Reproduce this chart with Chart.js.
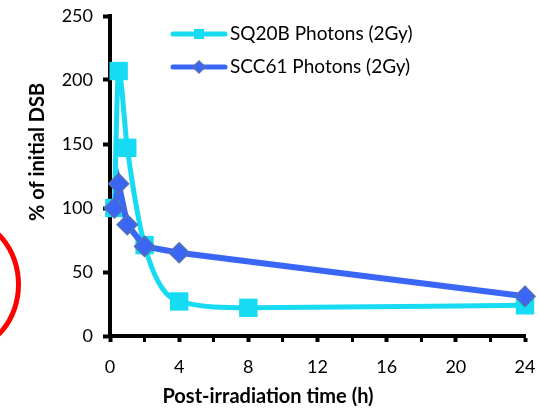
<!DOCTYPE html>
<html>
<head>
<meta charset="utf-8">
<script src="https://cdn.jsdelivr.net/npm/chart.js@4/dist/chart.umd.min.js"></script>
<style>
  html, body { margin: 0; padding: 0; background: #fff; overflow: hidden; }
  #wrap { position: relative; width: 539px; height: 411px; }
  #ring { position: absolute; left: -91px; top: 218px; width: 102px; height: 123px;
          border: 5px solid #ff0000; border-radius: 50%; }
</style>
</head>
<body>
<div id="wrap">
  <canvas id="c" width="539" height="411"></canvas>
  <div id="ring"></div>
</div>
<script>
// ---- data ----
const seriesNames = ['SQ20B Photons (2Gy)', 'SCC61 Photons (2Gy)'];
const timesSQ20B = [0.25, 0.5, 1, 2, 4, 8, 24];
const valuesSQ20B = [100, 207, 147, 71, 27, 22, 24];
const timesSCC61 = [0.25, 0.5, 1, 2, 4, 24];
const valuesSCC61 = [100, 119, 87, 70, 65, 31];
const xTitle = 'Post-irradiation time (h)';
const yTitle = '% of initial DSB';

const CYAN = 'rgb(22,219,242)';
const BLUE = 'rgb(58,102,246)';
const DIAMOND_EDGE = 'rgb(84,112,178)';
const FONT = 'Lato, "Open Sans", sans-serif';

const toPts = (xs, ys) => xs.map((x, i) => ({ x: x, y: ys[i] }));

const overlay = {
  id: 'overlay',
  afterDraw(chart) {
    const ctx = chart.ctx;
    ctx.save();
    // legend
    chart.data.datasets.forEach((ds, i) => {
      const y = 34 + 33 * i;
      ctx.strokeStyle = ds.borderColor;
      ctx.lineWidth = 5;
      ctx.lineCap = 'round';
      ctx.beginPath(); ctx.moveTo(173, y); ctx.lineTo(225, y); ctx.stroke();
      const cx = 199;
      if (ds.pointStyle === 'rect') {
        ctx.fillStyle = ds.pointBackgroundColor;
        ctx.fillRect(cx - 5, y - 5, 10, 10);
      } else {
        ctx.fillStyle = ds.pointBackgroundColor;
        ctx.strokeStyle = ds.pointBorderColor;
        ctx.lineWidth = 1.5;
        ctx.beginPath();
        ctx.moveTo(cx, y - 6); ctx.lineTo(cx + 6, y); ctx.lineTo(cx, y + 6); ctx.lineTo(cx - 6, y);
        ctx.closePath(); ctx.fill(); ctx.stroke();
      }
      ctx.fillStyle = '#000';
      ctx.font = '19px ' + FONT;
      ctx.textAlign = 'left';
      ctx.textBaseline = 'middle';
      ctx.fillText(ds.label, 230, y);
    });
    // axis titles
    ctx.fillStyle = '#000';
    ctx.font = 'bold 20px ' + FONT;
    ctx.textAlign = 'center';
    ctx.textBaseline = 'middle';
    ctx.fillText(xTitle, 268, 397);
    ctx.translate(38, 152);
    ctx.rotate(-Math.PI / 2);
    ctx.fillText(yTitle, 0, 0);
    ctx.restore();
  }
};

new Chart(document.getElementById('c'), {
  type: 'line',
  data: {
    datasets: [
      {
        label: seriesNames[0],
        data: toPts(timesSQ20B, valuesSQ20B),
        borderColor: CYAN,
        backgroundColor: CYAN,
        borderWidth: 5,
        pointStyle: 'rect',
        pointRadius: 13,
        pointBackgroundColor: CYAN,
        pointBorderColor: CYAN,
        pointBorderWidth: 0,
        cubicInterpolationMode: 'monotone',
        clip: false,
        order: 2
      },
      {
        label: seriesNames[1],
        data: toPts(timesSCC61, valuesSCC61),
        borderColor: BLUE,
        backgroundColor: BLUE,
        borderWidth: 6,
        pointStyle: 'rectRot',
        pointRadius: 10,
        pointBackgroundColor: BLUE,
        pointBorderColor: DIAMOND_EDGE,
        pointBorderWidth: 1.5,
        tension: 0,
        clip: false,
        order: 1
      }
    ]
  },
  options: {
    responsive: false,
    animation: false,
    events: [],
    layout: { padding: { left: 0, top: 16, right: 14, bottom: 0 } },
    plugins: { legend: { display: false }, tooltip: { enabled: false } },
    scales: {
      x: {
        type: 'linear',
        min: 0, max: 24,
        afterFit(s) { s.height = 75; s.paddingLeft = 0; s.paddingRight = 0; },
        border: { color: '#000', width: 4 },
        grid: { drawOnChartArea: false, drawTicks: true, tickLength: 6, tickColor: '#000',
                tickWidth: (c) => (c.tick && c.tick.value % 4 === 0 ? 4 : 3) },
        ticks: {
          stepSize: 2, autoSkip: false, maxRotation: 0,
          color: '#000', font: { family: FONT, size: 18 }, padding: 14,
          callback: (v) => (v % 4 === 0 ? String(v) : '')
        }
      },
      y: {
        min: 0, max: 250,
        afterFit(s) { s.width = 110; s.paddingTop = 0; s.paddingBottom = 0; },
        border: { color: '#000', width: 4 },
        grid: { drawOnChartArea: false, drawTicks: true, tickLength: 7, tickColor: '#000', tickWidth: 4 },
        ticks: { stepSize: 50, color: '#000', font: { family: FONT, size: 18 }, padding: 10 }
      }
    }
  },
  plugins: [overlay]
});
</script>
</body>
</html>
